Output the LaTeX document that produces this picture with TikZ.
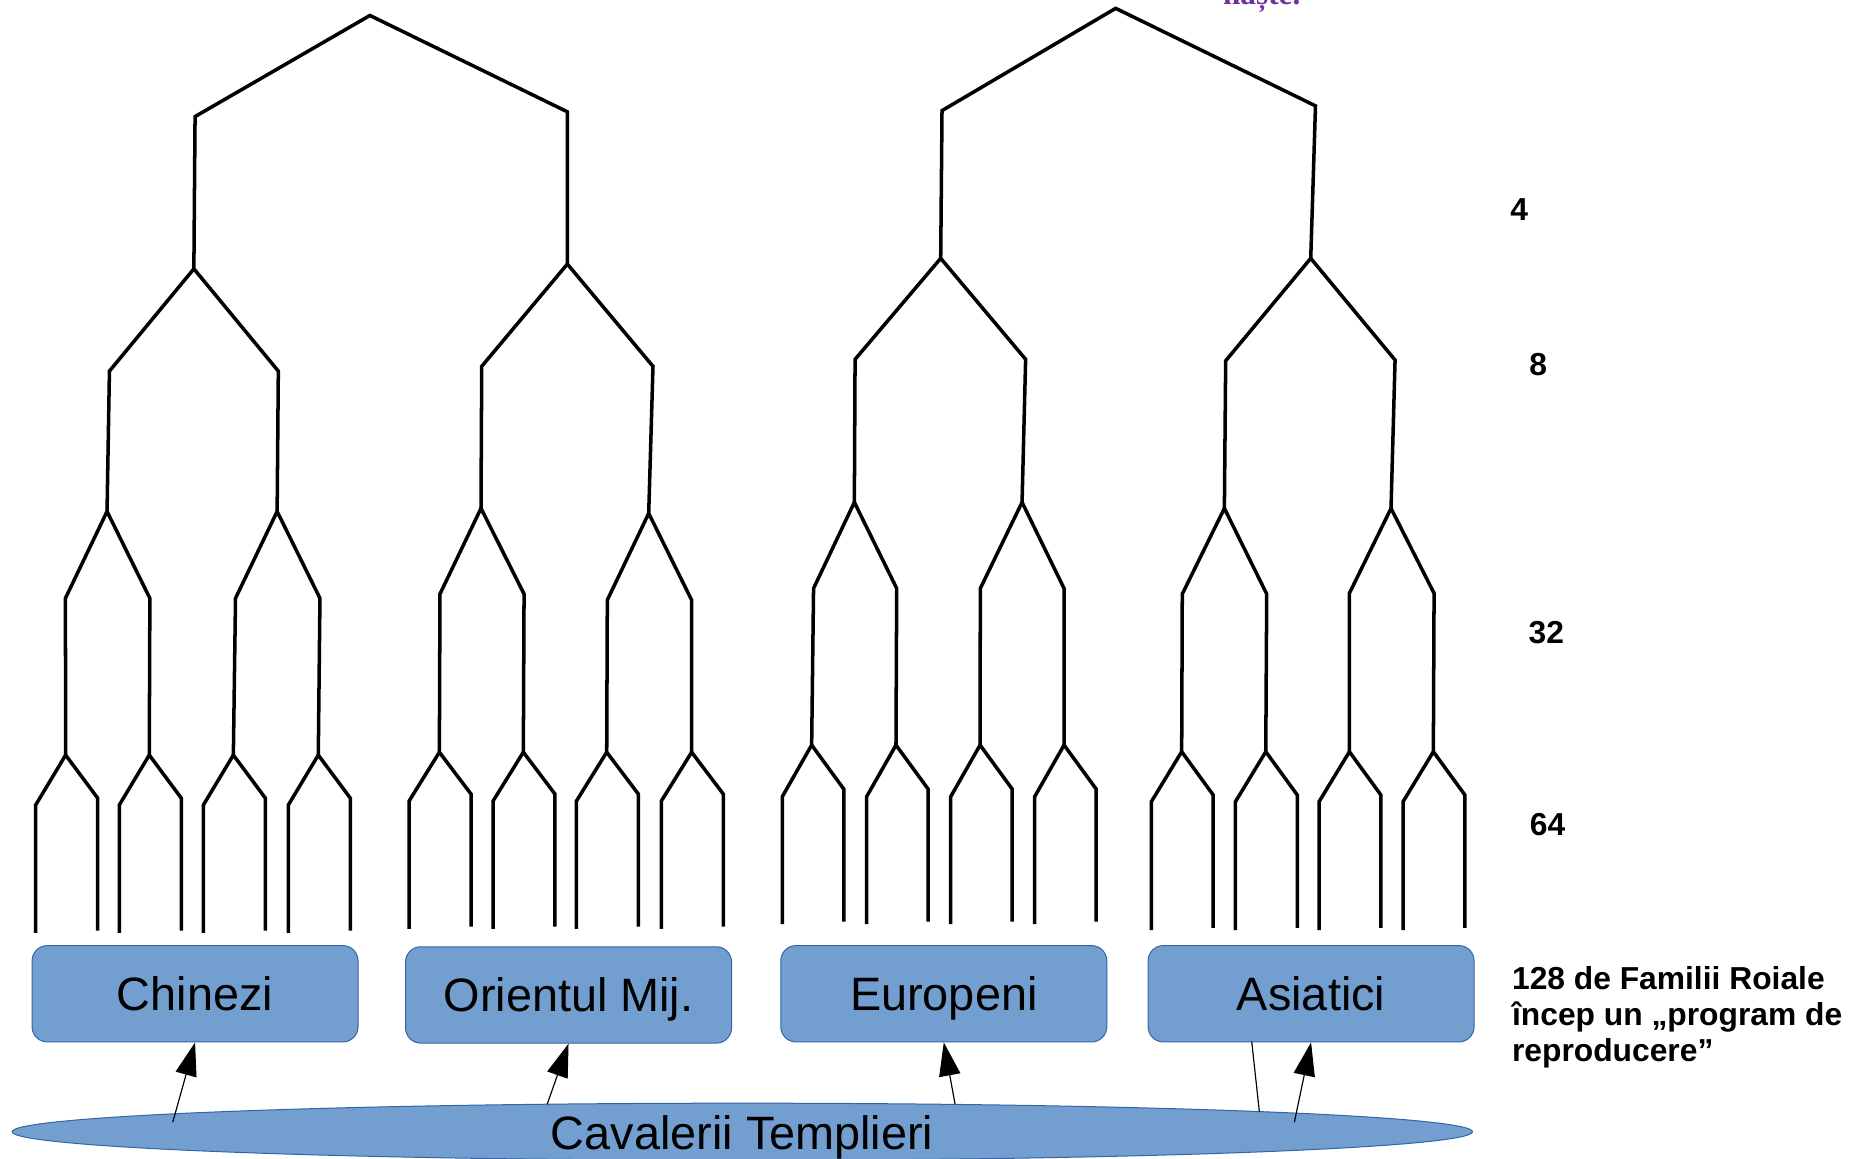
\documentclass[tikz,border=0pt]{standalone}
\usepackage{fontspec}
\setmainfont{Liberation Sans}
\newfontfamily\serifface{Liberation Serif}
\usetikzlibrary{arrows.meta,shapes.geometric}
\definecolor{boxblue}{HTML}{729FCF}
\definecolor{boxline}{HTML}{3465A4}
\definecolor{titlepurple}{HTML}{7030A0}
\begin{document}
\begin{tikzpicture}[x=0.025cm,y=-0.025cm,
  tree/.style={line width=2.1pt, line join=miter},
  famille/.style={draw=boxline, fill=boxblue, line width=0.6pt, rounded corners=0.32cm,
    minimum width=6.85cm, minimum height=2.025cm, inner sep=0pt,
    font=\fontsize{28}{34}\selectfont, text height=20.2pt, text depth=0pt},
  arr/.style={line width=0.7pt, -{Triangle[length=0.7cm,width=0.45cm]}},
  lab/.style={font=\fontsize{19}{21.5}\selectfont\bfseries, inner sep=0pt, anchor=base west}]
\clip (0,0) rectangle (1568,974);

% ---- tree 1 ----
\draw[tree] (163,226) -- (164,98) -- (311,13) -- (477,94) -- (477,222);
\draw[tree] (90,430) -- (92,312) -- (163,226) -- (234,312) -- (233,430);
\draw[tree] (404.4,427.4) -- (405,308) -- (477,222) -- (549,308) -- (545.4,431.6);
\draw[tree] (55.2,634.8) -- (55,503) -- (90,430) -- (126,503) -- (125.5,634.8);
\draw[tree] (196.2,634.8) -- (198,503) -- (233,430) -- (269,503) -- (267.6,634.8);
\draw[tree] (369.4,632.4) -- (369.9,499.4) -- (404.4,427.4) -- (440.6,499.4) -- (440,632.4);
\draw[tree] (510.1,632.4) -- (510.6,504.5) -- (545.4,431.6) -- (581.5,504.5) -- (581.5,632.4);
\foreach \x in {55.2,125.5,196.2,267.6}
  \draw[tree] ({\x-25.2},784.4) -- ({\x-25.2},676.8) -- (\x,634.8) -- ({\x+26.9},671) -- ({\x+26.9},782.5);
\foreach \x in {369.4,440,510.1,581.5}
  \draw[tree] ({\x-25.5},781) -- ({\x-25.5},673.5) -- (\x,632.4) -- ({\x+26.6},667.6) -- ({\x+26.6},779);

% ---- tree 2 ----
\draw[tree] (790.9,217.2) -- (792,93) -- (938,7) -- (1106,89) -- (1102,217.2);
\draw[tree] (718.3,422.3) -- (718.9,302.1) -- (790.9,217.2) -- (862.3,302.1) -- (859.3,422.3);
\draw[tree] (1029.4,427.4) -- (1030.5,303.3) -- (1102,217.2) -- (1172.9,302.7) -- (1169.5,427.4);
\draw[tree] (682.4,626.4) -- (684,494.7) -- (718.3,422.3) -- (753.9,494.7) -- (753.3,626.4);
\draw[tree] (824,626.4) -- (824.2,494.7) -- (859.3,422.3) -- (894.6,494.7) -- (894.6,626.4);
\draw[tree] (993.5,632) -- (994,499.4) -- (1029.4,427.4) -- (1065,499.4) -- (1064.2,632);
\draw[tree] (1134.5,632) -- (1134.5,498.8) -- (1169.5,427.4) -- (1205.7,498.8) -- (1205.1,632);
\foreach \x in {682.4,753.3,824,894.6}
  \draw[tree] ({\x-24.7},776.9) -- ({\x-24.7},669.8) -- (\x,626.4) -- ({\x+27},663.4) -- ({\x+27},774.9);
\foreach \x in {993.5,1064.2,1134.5,1205.1}
  \draw[tree] ({\x-25.5},782) -- ({\x-25.5},674) -- (\x,632) -- ({\x+26.5},668.4) -- ({\x+26.5},780);

% ---- family boxes ----
\node[famille] (chinezi) at (164,835.5) {Chinezi};
\node[famille] (orient) at (478,836.5) {Orientul Mij.};
\node[famille] (europeni) at (793.5,835.5) {Europeni};
\node[famille] (asiatici) at (1102.3,835.5) {Asiatici};

% ---- templars ellipse ----
\node[ellipse, draw=boxline, fill=boxblue, line width=0.6pt, minimum width=30.69cm,
      minimum height=1.2cm, inner sep=0pt] (templars) at (624.1,951.5) {};
\node[anchor=base, inner sep=0pt, font=\fontsize{28}{34}\selectfont] (templarstext) at (624,966.5) {Cavalerii Templieri};

% ---- connectors ----
\coordinate (t1) at (145.2,943.6);
\coordinate (t2) at (460,928.5);
\coordinate (t3) at (803,928.5);
\coordinate (t4) at (1088.2,943.6);
\draw[arr] (t1) -- (chinezi.south);
\draw[arr] (t2) -- (orient.south);
\draw[arr] (t3) -- (europeni.south);
\draw[arr] (t4) -- (asiatici.south);
\coordinate (s1) at (1052.4,875.8);
\coordinate (s2) at (1058.8,934.7);
\draw[line width=0.7pt] (s1) -- (s2);

% ---- labels ----
\node[lab] (n4) at (1269.5,185.6) {4};
\node[lab] (n8) at (1285.5,315.6) {8};
\node[lab] (n32) at (1285,540.6) {32};
\node[lab] (n64) at (1286,702.6) {64};
\node[lab] (n128) at (1271,831.6) {\begin{tabular}[t]{@{}l@{}}128 de Familii Roiale\\încep un „program de\\reproducere”\end{tabular}};

\node[anchor=base west, inner sep=0pt, font=\serifface\bfseries\fontsize{18.7}{22}\selectfont,
      text=titlepurple] (title) at (1028,4.2) {naște.};
\end{tikzpicture}
\end{document}
